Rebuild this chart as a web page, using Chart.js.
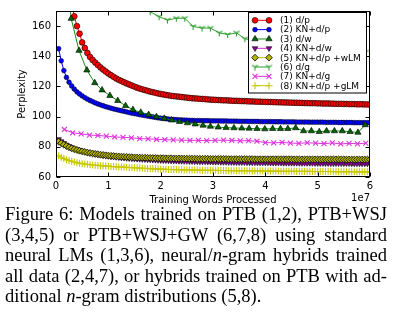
<!DOCTYPE html>
<html><head><meta charset="utf-8">
<script src="https://cdn.jsdelivr.net/npm/chart.js@4.4.0/dist/chart.umd.min.js"></script>
<style>
html,body{margin:0;padding:0;background:#fff;width:393px;height:321px;overflow:hidden;}
#c{position:absolute;left:0;top:0;}
#cap{position:absolute;left:5px;top:204px;width:382px;font-family:"Liberation Serif","Times New Roman",serif;font-size:18.5px;line-height:20.5px;color:#000;}
#cap span{display:block;text-align:justify;text-align-last:justify;}
#cap span.last{text-align:left;text-align-last:left;}
</style></head>
<body>
<canvas id="c" width="393" height="206"></canvas>
<div id="cap">
<span>Figure 6: Models trained on PTB (1,2), PTB+WSJ</span>
<span>(3,4,5) or PTB+WSJ+GW (6,7,8) using standard</span>
<span>neural LMs (1,3,6), neural/<i>n</i>-gram hybrids trained</span>
<span>all data (2,4,7), or hybrids trained on PTB with ad-</span>
<span class="last">ditional <i>n</i>-gram distributions (5,8).</span>
</div>
<script>
// ---- data (x in units of 1e7 training words) ----
const xTicks = [0, 1, 2, 3, 4, 5, 6];
const yTicks = [60, 80, 100, 120, 140, 160];
const labels = ["(1) d/p", "(2) KN+d/p", "(3) d/w", "(4) KN+d/w", "(5) KN+d/p +wLM", "(6) d/g", "(7) KN+d/g", "(8) KN+d/p +gLM"];

const xDense = [
0.05,0.10,0.15,0.20,0.25,0.30,0.35,0.40,0.45,0.50,
0.55,0.60,0.65,0.70,0.75,0.80,0.85,0.90,0.95,1.00,
1.05,1.10,1.15,1.20,1.25,1.30,1.35,1.40,1.45,1.50,
1.55,1.60,1.65,1.70,1.75,1.80,1.85,1.90,1.95,2.00,
2.05,2.10,2.15,2.20,2.25,2.30,2.35,2.40,2.45,2.50,
2.55,2.60,2.65,2.70,2.75,2.80,2.85,2.90,2.95,3.00,
3.05,3.10,3.15,3.20,3.25,3.30,3.35,3.40,3.45,3.50,
3.55,3.60,3.65,3.70,3.75,3.80,3.85,3.90,3.95,4.00,
4.05,4.10,4.15,4.20,4.25,4.30,4.35,4.40,4.45,4.50,
4.55,4.60,4.65,4.70,4.75,4.80,4.85,4.90,4.95,5.00,
5.05,5.10,5.15,5.20,5.25,5.30,5.35,5.40,5.45,5.50,
5.55,5.60,5.65,5.70,5.75,5.80,5.85,5.90,5.95,6.00];

// (1) d/p : starts at 0.30
const ppl1 = [
175,166.5,160,155,149.2,
145.5,142.2,139.6,137.6,135.8,134.2,132.6,131.2,129.9,128.6,
127.5,126.4,125.3,124.4,123.6,122.8,122.0,121.3,120.6,119.9,
119.2,118.6,118.1,117.6,117.1,116.6,116.2,115.8,115.4,115.0,
114.7,114.4,114.1,113.8,113.6,113.4,113.2,113.0,112.8,112.6,
112.4,112.2,112.1,112.0,111.8,111.7,111.6,111.4,111.3,111.2,
111.1,111.0,110.9,110.8,110.8,110.7,110.6,110.5,110.5,110.4,
110.3,110.3,110.2,110.1,110.1,110.0,109.9,109.9,109.8,109.8,
109.7,109.7,109.6,109.6,109.5,109.5,109.4,109.4,109.3,109.3,
109.2,109.2,109.1,109.1,109.0,109.0,108.9,108.9,108.9,108.8,
108.8,108.7,108.7,108.7,108.6,108.6,108.5,108.5,108.5,108.4,
108.4,108.3,108.3,108.3,108.2,108.2,108.2,108.1,108.1,108.0];

// (2) KN+d/p
const ppl2 = [
145,137,130.5,126,122.8,120.3,118.2,116.4,115.0,113.7,
112.6,111.6,110.7,109.9,109.1,108.4,107.8,107.2,106.6,106.1,
105.6,105.1,104.7,104.3,103.9,103.5,103.1,102.7,102.3,102.0,
101.7,101.3,101.0,100.7,100.4,100.1,99.8,99.5,99.2,99.0,
98.8,98.6,98.4,98.2,98.1,98.0,97.9,97.8,97.7,97.6,
97.5,97.5,97.4,97.4,97.4,97.3,97.3,97.3,97.2,97.2,
97.2,97.2,97.1,97.1,97.1,97.0,97.0,97.0,97.0,96.9,
96.9,96.9,96.9,96.8,96.8,96.8,96.8,96.7,96.7,96.7,
96.7,96.7,96.6,96.6,96.6,96.6,96.5,96.5,96.5,96.5,
96.5,96.4,96.4,96.4,96.4,96.4,96.3,96.3,96.3,96.3,
96.3,96.3,96.2,96.2,96.2,96.2,96.2,96.1,96.1,96.1,
96.1,96.1,96.1,96.0,96.0,96.0,96.0,96.0,96.0,96.0];

// (3) d/w
const x3 = [0.14,0.29,0.44,0.59,0.74,0.88,1.03,1.18,1.33,1.47,1.62,1.77,1.92,2.07,2.21,2.36,2.51,2.66,2.81,2.95,3.10,3.25,3.40,3.55,3.69,3.84,3.99,4.14,4.29,4.43,4.58,4.73,4.88,5.03,5.17,5.32,5.47,5.62,5.77,5.91];
const ppl3 = [215,165,143.8,130.8,122.4,117.6,113.9,110.6,107.2,104.6,102.8,101.3,99.9,98.8,97.7,96.7,95.8,95.0,94.2,93.5,93.0,92.7,92.5,92.3,92.2,92.0,91.8,92.0,92.0,92.0,92.5,90.5,90.5,90.0,90.5,90.5,90.5,90.0,89.5,94.5];

// (4) KN+d/w
const ppl4 = [
85.0,83.6,82.4,81.3,80.4,79.6,78.9,78.3,77.7,77.2,
76.7,76.3,75.9,75.5,75.2,74.9,74.6,74.3,74.0,73.8,
73.6,73.4,73.2,73.0,72.8,72.7,72.5,72.4,72.2,72.1,
72.0,71.9,71.8,71.7,71.6,71.5,71.4,71.3,71.2,71.1,
71.0,71.0,70.9,70.8,70.8,70.7,70.6,70.6,70.5,70.5,
70.4,70.4,70.3,70.3,70.2,70.2,70.2,70.1,70.1,70.0,
70.0,70.0,69.9,69.9,69.9,69.8,69.8,69.8,69.7,69.7,
69.7,69.7,69.6,69.6,69.6,69.6,69.5,69.5,69.5,69.5,
69.5,69.4,69.4,69.4,69.4,69.4,69.3,69.3,69.3,69.3,
69.3,69.3,69.2,69.2,69.2,69.2,69.2,69.2,69.1,69.1,
69.1,69.1,69.1,69.1,69.0,69.0,69.0,69.0,69.0,69.0,
69.0,69.0,68.9,68.9,68.9,68.9,68.9,68.9,68.9,68.9];

// (5) KN+d/p +wLM
const ppl5 = [
83.5,82.4,81.4,80.5,79.7,79.0,78.4,77.9,77.4,77.0,
76.6,76.2,75.9,75.6,75.3,75.1,74.8,74.6,74.4,74.2,
74.0,73.9,73.7,73.6,73.5,73.4,73.3,73.2,73.1,73.0,
72.9,72.9,72.8,72.8,72.7,72.7,72.6,72.6,72.5,72.5,
72.5,72.4,72.4,72.4,72.3,72.3,72.3,72.3,72.2,72.2,
72.2,72.2,72.2,72.1,72.1,72.1,72.1,72.1,72.0,72.0,
72.0,72.0,72.0,72.0,72.0,71.9,71.9,71.9,71.9,71.9,
71.9,71.9,71.9,71.9,71.9,71.8,71.8,71.8,71.8,71.8,
71.8,71.8,71.8,71.8,71.8,71.8,71.8,71.8,71.8,71.8,
71.7,71.7,71.7,71.7,71.7,71.7,71.7,71.7,71.7,71.7,
71.7,71.7,71.7,71.7,71.7,71.7,71.7,71.7,71.7,71.7,
71.6,71.6,71.6,71.6,71.6,71.6,71.6,71.6,71.6,71.6];

// (6) d/g
const x6 = [1.14,1.31,1.47,1.64,1.80,1.97,2.13,2.30,2.46,2.62,2.79,2.95,3.12,3.28,3.45,3.61,3.78,3.94,4.11,4.27,4.44,4.60,4.77,4.93,5.10,5.26,5.43,5.59,5.76,5.92];
const ppl6 = [186,181,177,173,169.5,166.2,164,165.2,165.2,159.8,158.7,158.7,155.5,154.4,155.5,151.6,150.5,149.8,149.2,148.6,148,147.3,146.6,146,145.5,144.9,144.3,143.8,143.2,142.8];

// (7) KN+d/g
const x7 = [0.16,0.32,0.48,0.64,0.80,0.96,1.12,1.28,1.44,1.60,1.76,1.92,2.08,2.24,2.40,2.56,2.72,2.88,3.04,3.20,3.36,3.52,3.68,3.84,4.00,4.16,4.32,4.48,4.64,4.80,4.96,5.12,5.28,5.44,5.60,5.76,5.92];
const ppl7 = [91.5,89.3,88.6,87.8,87.5,87.1,86.5,86.3,86.0,85.4,85.3,85.0,84.7,84.6,84.4,84.2,84.3,84.1,84.3,84.4,84.2,84.0,84.1,83.7,82.8,82.6,82.9,82.5,82.3,82.7,82.4,82.1,82.6,81.9,82.3,82.0,82.4];

// (8) KN+d/p +gLM
const ppl8 = [
74.0,73.1,72.2,71.5,70.9,70.4,69.9,69.5,69.1,68.8,
68.6,68.4,68.2,68.0,67.8,67.7,67.5,67.4,67.3,67.2,
67.0,66.9,66.8,66.7,66.6,66.5,66.4,66.3,66.2,66.1,
66.0,65.9,65.8,65.7,65.6,65.5,65.5,65.4,65.3,65.2,
65.2,65.1,65.0,65.0,64.9,64.9,64.8,64.8,64.7,64.7,
64.7,64.6,64.6,64.6,64.5,64.5,64.5,64.4,64.4,64.4,
64.4,64.3,64.3,64.3,64.3,64.2,64.2,64.2,64.2,64.1,
64.1,64.1,64.1,64.1,64.0,64.0,64.0,64.0,64.0,63.9,
63.9,63.9,63.9,63.9,63.9,63.8,63.8,63.8,63.8,63.8,
63.8,63.7,63.7,63.7,63.7,63.7,63.7,63.6,63.6,63.6,
63.6,63.6,63.6,63.6,63.6,63.5,63.5,63.5,63.5,63.5,
63.5,63.5,63.5,63.5,63.4,63.4,63.4,63.4,63.4,63.4];

// pair x values (aligned to the end) with y values
function pts(xs, ys) { const off = xs.length - ys.length; return ys.map((y, i) => ({ x: xs[off + i], y: y })); }

function triDownImg(color, r) {
  const c = document.createElement('canvas');
  const s = Math.ceil(r * 2 + 2); c.width = s; c.height = s;
  const g = c.getContext('2d'); const m = s / 2;
  g.strokeStyle = color; g.lineWidth = 1.1; g.beginPath();
  g.moveTo(m, m); g.lineTo(m, m + r);
  g.moveTo(m, m); g.lineTo(m - r * 0.866, m - r * 0.5);
  g.moveTo(m, m); g.lineTo(m + r * 0.866, m - r * 0.5);
  g.stroke(); return c;
}

const FONT = '"DejaVu Sans", "Bitstream Vera Sans", sans-serif';

function ds(i, data, line, o) {
  return Object.assign({
    label: labels[i], data: data, borderColor: line, borderWidth: 1,
    pointBorderColor: '#000', pointBorderWidth: 0.5, pointRotation: 0,
    order: 8 - i, clip: 0, tension: 0, fill: false
  }, o);
}

const datasets = [
  ds(0, pts(xDense, ppl1), '#ff0000', { pointStyle: 'circle', pointRadius: 2.9, pointBackgroundColor: '#ff0000', pointBorderWidth: 0.6 }),
  ds(1, pts(xDense, ppl2), '#0000ff', { pointStyle: 'circle', pointRadius: 2.4, pointBackgroundColor: '#0000ff' }),
  ds(2, pts(x3, ppl3), '#1a8c1a', { pointStyle: 'triangle', pointRadius: 3.6, pointBackgroundColor: '#006400', pointBorderWidth: 0.6 }),
  ds(3, pts(xDense, ppl4), '#cc33cc', { pointStyle: 'triangle', pointRotation: 180, pointRadius: 3.2, pointBackgroundColor: '#9000a0', pointBorderWidth: 0.6 }),
  ds(4, pts(xDense, ppl5), '#bfbf00', { pointStyle: 'rectRot', pointRadius: 3.4, pointBackgroundColor: '#b4b400', pointBorderWidth: 0.8 }),
  ds(5, pts(x6, ppl6), '#2e9e2e', { pointStyle: triDownImg('#2e9e2e', 3.5), pointRadius: 3.5, pointBackgroundColor: '#2e9e2e', pointBorderColor: '#2e9e2e' }),
  ds(6, pts(x7, ppl7), '#dd33dd', { pointStyle: 'crossRot', pointRadius: 3.5, pointBackgroundColor: '#dd33dd', pointBorderColor: '#dd33dd', pointBorderWidth: 1.1 }),
  ds(7, pts(xDense, ppl8), '#c8c800', { pointStyle: 'cross', pointRadius: 3.5, pointBackgroundColor: '#c8c800', pointBorderColor: '#c8c800', pointBorderWidth: 1.1 })
];

const framePlugin = {
  id: 'frame',
  afterDatasetsDraw(chart) {
    const { ctx, chartArea: a, scales } = chart;
    ctx.save();
    ctx.strokeStyle = '#000'; ctx.lineWidth = 1;
    const L = Math.round(a.left) + 0.5, R = Math.round(a.right) - 0.5, T = Math.round(a.top) + 0.5, B = Math.round(a.bottom) - 0.5;
    ctx.strokeRect(L, T, R - L, B - T);
    ctx.beginPath();
    scales.x.ticks.forEach(t => {
      const px = Math.round(scales.x.getPixelForValue(t.value)) + 0.5;
      ctx.moveTo(px, B); ctx.lineTo(px, B - 4);
      ctx.moveTo(px, T); ctx.lineTo(px, T + 4);
    });
    scales.y.ticks.forEach(t => {
      const py = Math.round(scales.y.getPixelForValue(t.value)) + 0.5;
      ctx.moveTo(L, py); ctx.lineTo(L + 4, py);
      ctx.moveTo(R, py); ctx.lineTo(R - 4, py);
    });
    ctx.stroke();
    ctx.restore();
  },
  afterDraw(chart) {
    const ctx = chart.ctx;
    ctx.save();
    // offset text of x axis
    ctx.fillStyle = '#000'; ctx.font = '10px ' + FONT; ctx.textAlign = 'right'; ctx.textBaseline = 'middle';
    ctx.fillText('1e7', 370, 198.5);
    // legend
    const bx = 248.5, by = 12.5, bw = 118, bh = 80.5;
    ctx.fillStyle = '#fff'; ctx.fillRect(bx, by, bw, bh);
    ctx.strokeStyle = '#000'; ctx.lineWidth = 1; ctx.strokeRect(bx, by, bw, bh);
    chart.data.datasets.forEach((d, i) => {
      const y = 20.3 + i * 9.34;
      ctx.strokeStyle = d.borderColor; ctx.lineWidth = 1;
      ctx.beginPath(); ctx.moveTo(255, y); ctx.lineTo(269, y); ctx.stroke();
      [255, 269].forEach(x => {
        ctx.fillStyle = d.pointBackgroundColor; ctx.strokeStyle = d.pointBorderColor; ctx.lineWidth = d.pointBorderWidth;
        Chart.helpers.drawPoint(ctx, { pointStyle: d.pointStyle, radius: d.pointRadius, rotation: d.pointRotation, borderWidth: d.pointBorderWidth }, x, y);
      });
      ctx.fillStyle = '#000'; ctx.font = '9px ' + FONT; ctx.textAlign = 'left'; ctx.textBaseline = 'middle';
      ctx.fillText(d.label, 280, y + 0.5);
    });
    ctx.restore();
  }
};

new Chart(document.getElementById('c'), {
  type: 'line',
  data: { datasets: datasets },
  options: {
    responsive: false, animation: false, devicePixelRatio: 1,
    events: [],
    layout: { padding: { left: 0, right: 23, top: 7, bottom: 0 } },
    plugins: { legend: { display: false }, tooltip: { enabled: false } },
    scales: {
      x: {
        type: 'linear', min: 0, max: 6,
        afterBuildTicks: s => { s.ticks = xTicks.map(v => ({ value: v })); },
        afterFit: s => { s.height = 29; },
        grid: { display: false, drawTicks: false },
        border: { display: false },
        ticks: { color: '#000', padding: 3, font: { family: FONT, size: 10 }, maxRotation: 0, callback: v => String(v) },
        title: { display: true, text: 'Training Words Processed', color: '#000', font: { family: FONT, size: 10 }, padding: { top: 0, bottom: 0 } }
      },
      y: {
        type: 'linear', min: 60, max: 170,
        afterBuildTicks: s => { s.ticks = yTicks.map(v => ({ value: v })); },
        afterFit: s => { s.width = 56; },
        grid: { display: false, drawTicks: false },
        border: { display: false },
        ticks: { color: '#000', padding: 5, font: { family: FONT, size: 10 }, callback: v => String(v) },
        title: { display: true, text: 'Perplexity', color: '#000', font: { family: FONT, size: 10 }, padding: { top: 16, bottom: 0 } }
      }
    }
  },
  plugins: [framePlugin]
});
</script>
</body></html>
